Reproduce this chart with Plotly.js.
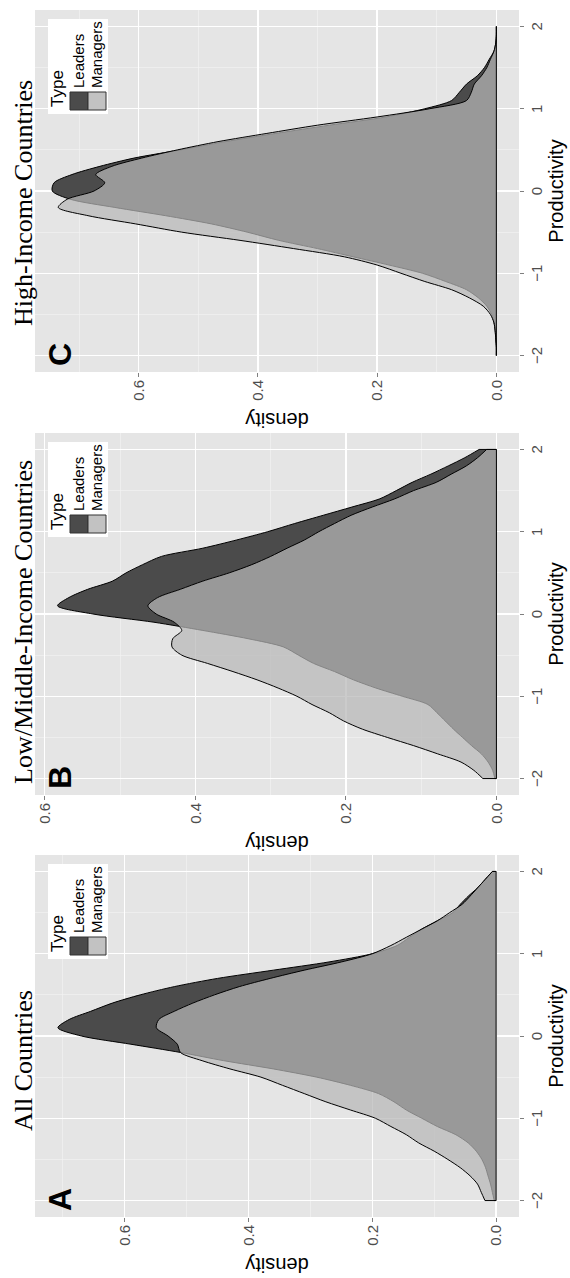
<!DOCTYPE html>
<html><head><meta charset="utf-8">
<script src="https://cdn.plot.ly/plotly-3.0.1.min.js"></script>
<style>
html,body{margin:0;padding:0;background:#fff;overflow:hidden;width:570px;height:1278px;}
#wrap{position:absolute;left:0;top:0;width:1278px;height:570px;transform-origin:0 0;transform:translate(0px,1278px) rotate(-90deg);}
</style></head><body>
<div id="wrap"><div id="chart" style="width:1278px;height:570px;"></div></div>
<script>
const productivity = [-2,-1.9,-1.8,-1.7,-1.6,-1.5,-1.4,-1.3,-1.2,-1.1,-1,-0.9,-0.8,-0.7,-0.6,-0.5,-0.4,-0.3,-0.2,-0.1,0,0.1,0.2,0.3,0.4,0.5,0.6,0.7,0.8,0.9,1,1.1,1.2,1.3,1.4,1.5,1.6,1.7,1.8,1.9,2];
const types = ["Leaders", "Managers"];
const legendTitle = "Type";
const panelTitles = ["All Countries", "Low/Middle-Income Countries", "High-Income Countries"];
const panelLetters = ["A", "B", "C"];
const densityTicks = [0, 0.2, 0.4, 0.6];
const productivityTicks = [-2, -1, 0, 1, 2];

// A: All Countries
const leadersA = [0.003,0.006,0.009,0.013,0.017,0.023,0.032,0.045,0.065,0.095,0.12,0.145,0.165,0.19,0.235,0.29,0.36,0.44,0.51,0.59,0.67,0.708,0.69,0.655,0.62,0.575,0.52,0.45,0.36,0.27,0.2,0.16,0.14,0.12,0.095,0.07,0.058,0.045,0.03,0.018,0.006];
const managersA = [0.018,0.024,0.03,0.042,0.058,0.078,0.1,0.125,0.145,0.17,0.195,0.235,0.275,0.31,0.345,0.38,0.43,0.475,0.51,0.515,0.53,0.549,0.545,0.52,0.49,0.455,0.415,0.365,0.31,0.25,0.2,0.17,0.145,0.12,0.095,0.075,0.055,0.042,0.03,0.018,0.006];
// B: Low/Middle-Income Countries
const leadersB = [0.002,0.005,0.011,0.02,0.033,0.045,0.057,0.068,0.079,0.091,0.125,0.16,0.19,0.215,0.243,0.263,0.283,0.33,0.39,0.455,0.536,0.583,0.568,0.543,0.51,0.492,0.47,0.445,0.39,0.345,0.304,0.268,0.23,0.192,0.155,0.133,0.112,0.087,0.064,0.042,0.023];
const managersB = [0.018,0.03,0.047,0.078,0.11,0.145,0.178,0.203,0.222,0.245,0.265,0.29,0.318,0.35,0.384,0.418,0.431,0.43,0.418,0.428,0.452,0.463,0.45,0.42,0.39,0.355,0.325,0.3,0.278,0.255,0.236,0.215,0.193,0.165,0.135,0.11,0.08,0.06,0.04,0.025,0.013];
// C: High-Income Countries
const leadersC = [0,0,0.001,0.002,0.004,0.008,0.016,0.03,0.05,0.085,0.124,0.18,0.24,0.3,0.365,0.418,0.478,0.555,0.64,0.715,0.745,0.742,0.712,0.665,0.608,0.53,0.455,0.37,0.28,0.185,0.12,0.075,0.062,0.05,0.032,0.02,0.012,0.004,0.001,0,0];
const managersC = [0,0,0.001,0.002,0.004,0.01,0.022,0.045,0.075,0.12,0.16,0.2,0.255,0.34,0.43,0.528,0.605,0.685,0.735,0.72,0.675,0.657,0.672,0.645,0.595,0.535,0.467,0.385,0.3,0.2,0.112,0.05,0.042,0.037,0.025,0.016,0.01,0.004,0.001,0,0];

const seriesByPanel = [[leadersA, managersA], [leadersB, managersB], [leadersC, managersC]];
const densityRanges = [[-0.037, 0.745], [-0.030, 0.613], [-0.038, 0.774]];

const W = 1278, H = 570;
const panelPx = [[61, 423], [483, 845], [906, 1268]];
const topPx = 35, bottomPx = 519;
const titleCenters = [217, 656, 1075];
const fills = ["#4b4b4b", "rgba(183,183,183,0.72)"];
const swatchFills = ["#4b4b4b", "#c2c2c2"];

const px2x = p => p / W;
const px2y = p => (H - p) / H;

const traces = [];
const layout = {
  width: W, height: H,
  margin: {l: 0, r: 0, t: 0, b: 0},
  paper_bgcolor: "#ffffff",
  plot_bgcolor: "#e5e5e5",
  font: {family: "Liberation Sans, Arial, sans-serif", color: "#000"},
  annotations: [],
  shapes: [],
  showlegend: false
};

function paperRect(x0, x1, y0, y1, fill, lineColor, lineWidth) {
  layout.shapes.push({
    type: "rect", xref: "paper", yref: "paper",
    x0: px2x(x0), x1: px2x(x1), y0: px2y(y1), y1: px2y(y0),
    fillcolor: fill, line: {color: lineColor, width: lineWidth}, layer: "above"
  });
}
function paperText(x, y, text, size, xanchor, yanchor, family) {
  layout.annotations.push({
    xref: "paper", yref: "paper", x: px2x(x), y: px2y(y),
    xanchor: xanchor, yanchor: yanchor, text: text, showarrow: false,
    borderpad: 0,
    font: {family: family || "Liberation Sans, Arial, sans-serif", size: size, color: "#000"}
  });
}
function dataLine(sfx, x0, x1, y0, y1) {
  layout.shapes.push({
    type: "line", xref: "x" + sfx, yref: "y" + sfx,
    x0: x0, x1: x1, y0: y0, y1: y1,
    line: {color: "#000", width: 1}, layer: "above"
  });
}

seriesByPanel.forEach((pair, i) => {
  const sfx = i === 0 ? "" : String(i + 1);
  const first = productivity[0], last = productivity[productivity.length - 1];
  pair.forEach((vals, j) => {
    traces.push({
      type: "scatter", mode: "lines",
      x: productivity, y: vals,
      xaxis: "x" + sfx, yaxis: "y" + sfx,
      fill: "tozeroy", fillcolor: fills[j],
      line: {color: "#000", width: 1, shape: "spline", smoothing: 0.8},
      name: types[j],
      hoverinfo: "skip"
    });
    // closing edges of the density polygon at both ends
    dataLine(sfx, first, first, 0, vals[0]);
    dataLine(sfx, last, last, 0, vals[vals.length - 1]);
  });
  dataLine(sfx, first, last, 0, 0);

  const dom = [px2x(panelPx[i][0]), px2x(panelPx[i][1])];
  layout["xaxis" + sfx] = {
    domain: dom, anchor: "y" + sfx, range: [-2.2, 2.2],
    tickmode: "array", tickvals: productivityTicks,
    ticktext: productivityTicks.map(v => v < 0 ? "\u2212" + Math.abs(v) : String(v)),
    ticks: "outside", ticklen: 4, tickwidth: 1, tickcolor: "#7f7f7f",
    tickfont: {size: 15, color: "#4d4d4d"},
    showgrid: true, gridcolor: "#ffffff", gridwidth: 1.4,
    minor: {dtick: 0.5, tick0: 0, showgrid: true, gridcolor: "#f2f2f2", gridwidth: 0.7, ticklen: 0},
    zeroline: false, showline: false,
    title: {text: "Productivity", font: {size: 20, color: "#000"}, standoff: 3}
  };
  layout["yaxis" + sfx] = {
    domain: [px2y(bottomPx), px2y(topPx)], anchor: "x" + sfx,
    range: densityRanges[i],
    tickmode: "array", tickvals: densityTicks, ticktext: densityTicks.map(v => v.toFixed(1)),
    ticks: "outside", ticklen: 4, tickwidth: 1, tickcolor: "#7f7f7f",
    tickfont: {size: 15, color: "#4d4d4d"},
    showgrid: true, gridcolor: "#ffffff", gridwidth: 1.4,
    minor: {tickvals: [0.1, 0.3, 0.5, 0.7], showgrid: true, gridcolor: "#f2f2f2", gridwidth: 0.7, ticklen: 0},
    zeroline: false, showline: false,
    title: {text: "density", font: {size: 20, color: "#000"}, standoff: 6}
  };

  // legend box (drawn by hand to get ggplot's square keys)
  const R = panelPx[i][1], T = topPx;
  paperRect(R - 104, R - 9, T + 13, T + 73, "#ffffff", "rgba(0,0,0,0)", 0);
  paperText(R - 98, T + 23, legendTitle, 17, "left", "middle");
  types.forEach((t, j) => {
    const y0 = T + 35 + j * 18;
    paperRect(R - 100, R - 82, y0, y0 + 18, swatchFills[j], "#333333", 1);
    paperText(R - 79, y0 + 9, t, 15, "left", "middle");
  });

  // panel title
  paperText(titleCenters[i], topPx + 4, panelTitles[i], 26, "center", "bottom",
            "Liberation Serif, Times New Roman, serif");
  // panel letter
  paperText(panelPx[i][0] + 5, topPx + 6, "<b>" + panelLetters[i] + "</b>", 32, "left", "top");
});

Plotly.newPlot("chart", traces, layout, {displayModeBar: false, staticPlot: true});
</script>
</body></html>
